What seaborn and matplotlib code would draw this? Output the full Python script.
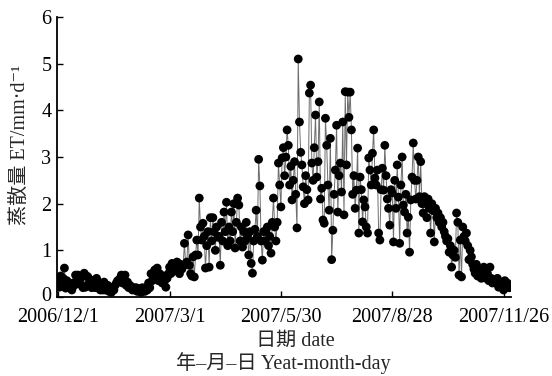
import matplotlib
matplotlib.use("Agg")
import matplotlib.pyplot as plt
import matplotlib.transforms as mtrans
import seaborn as sns
import pandas as pd
import numpy as np

start_date = "2006-12-01"
et_values = [
    0.3, 0.21, 0.45, 0.3, 0.4, 0.62, 0.19, 0.35, 0.3, 0.25,
    0.2, 0.15, 0.3, 0.25, 0.47, 0.35, 0.47, 0.3, 0.4, 0.25,
    0.2, 0.51, 0.21, 0.45, 0.43, 0.3, 0.36, 0.2, 0.3, 0.36,
    0.2, 0.4, 0.21, 0.3, 0.15, 0.25, 0.15, 0.32, 0.15, 0.2,
    0.25, 0.12, 0.15, 0.1, 0.2, 0.15, 0.25, 0.3, 0.35, 0.32,
    0.4, 0.47, 0.3, 0.35, 0.47, 0.25, 0.32, 0.2, 0.25, 0.21,
    0.15, 0.2, 0.15, 0.2, 0.12, 0.18, 0.15, 0.1, 0.2, 0.15,
    0.12, 0.2, 0.15, 0.3, 0.2, 0.5, 0.35, 0.45, 0.58, 0.45,
    0.62, 0.35, 0.5, 0.4, 0.3, 0.45, 0.35, 0.21, 0.4, 0.5,
    0.64, 0.5, 0.72, 0.55, 0.68, 0.6, 0.75, 0.72, 0.5, 0.7,
    0.6, 0.68, 1.15, 0.7, 0.75, 1.33, 0.68, 0.5, 0.45, 0.86,
    0.43, 0.9, 1.22, 0.9, 2.12, 1.5, 1.22, 1.58, 1.3, 0.62,
    1.1, 1.4, 0.64, 1.7, 1.2, 1.7, 1.4, 1.0, 1.5, 1.28,
    1.3, 0.68, 1.6, 1.2, 1.82, 1.4, 2.03, 1.1, 1.5, 1.2,
    1.82, 1.4, 2.0, 1.05, 1.6, 2.12, 1.97, 1.2, 1.5, 1.07,
    1.4, 1.2, 1.6, 1.3, 0.9, 1.4, 0.72, 0.51, 1.2, 1.45,
    1.86, 1.3, 2.95, 2.38, 1.2, 0.79, 1.4, 1.2, 1.43, 1.5,
    1.1, 1.3, 0.94, 1.6, 2.12, 1.5, 1.2, 1.6, 2.87, 2.4,
    1.93, 2.98, 3.2, 2.6, 3.0, 3.58, 3.25, 2.4, 2.8, 2.08,
    2.5, 2.9, 2.2, 1.48, 5.1, 3.75, 3.1, 2.83, 2.36, 2.0,
    2.6, 2.3, 2.08, 4.37, 4.54, 2.87, 2.5, 3.2, 3.9, 2.57,
    2.9, 4.18, 2.1, 2.33, 1.65, 1.58, 3.83, 3.25, 2.4, 1.86,
    3.4, 0.8, 1.43, 2.2, 2.72, 3.68, 1.82, 2.6, 2.87, 2.25,
    3.75, 1.76, 4.4, 2.83, 4.39, 3.85, 4.39, 3.58, 2.2, 2.6,
    1.9, 2.29, 3.19, 1.37, 2.57, 2.3, 1.61, 2.08, 1.93, 1.5,
    1.37, 2.98, 2.72, 2.4, 3.08, 3.58, 2.55, 2.4, 2.72, 1.37,
    1.22, 2.3, 2.76, 2.29, 3.25, 2.6, 2.1, 1.9, 1.54, 2.3,
    2.23, 1.18, 2.5, 1.9, 2.83, 2.14, 1.15, 2.4, 3.0, 1.97,
    1.82, 2.2, 1.37, 1.71, 0.96, 2.08, 2.57, 3.3, 2.5, 2.1,
    2.5, 3.0, 2.15, 2.9, 2.0, 1.8, 2.15, 2.0, 1.7, 2.1,
    1.9, 1.37, 2.0, 1.85, 1.18, 1.9, 1.7, 1.8, 1.6, 1.7,
    1.5, 1.6, 1.4, 1.3, 1.2, 1.25, 0.96, 1.1, 0.64, 0.9,
    1.0, 0.85, 1.8, 1.6, 0.47, 1.22, 0.43, 1.5, 1.3, 1.2,
    1.37, 1.1, 0.8, 1.0, 0.86, 0.7, 0.6, 0.51, 0.7, 0.45,
    0.6, 0.51, 0.4, 0.5, 0.64, 0.45, 0.4, 0.5, 0.35, 0.64,
    0.4, 0.3, 0.35, 0.36, 0.3, 0.4, 0.21, 0.3, 0.25, 0.3,
    0.15, 0.35, 0.25, 0.3, 0.2, 0.2,
]
tick_dates = ["2006-12-01", "2007-03-01", "2007-05-30", "2007-08-28", "2007-11-26"]
tick_labels = ["2006/12/1", "2007/3/1", "2007/5/30", "2007/8/28", "2007/11/26"]
y_ticks = [0, 1, 2, 3, 4, 5, 6]
ylabel = "蒸散量 ET/mm·d⁻¹"
xlabel1 = "日期 date"
xlabel2 = "年–月–日 Yeat-month-day"

dates = pd.date_range(start_date, periods=len(et_values), freq="D")
df = pd.DataFrame({"date": dates, "et": et_values})

sns.set_style("ticks")
fams = ["Liberation Serif", "Noto Sans CJK SC", "DejaVu Sans"]
plt.rcParams["font.family"] = fams

fig = plt.figure(figsize=(5.52, 3.76), dpi=100)
ax = fig.add_axes([57/552, 1-297/376, (511-57)/552, (297-17)/376])

sns.lineplot(data=df, x="date", y="et", ax=ax, color="#6e6e6e", linewidth=0.7, zorder=1)
sns.scatterplot(data=df, x="date", y="et", ax=ax, color="black", s=40, edgecolor="none", zorder=2)

ax.set_ylim(0, 6)
ax.set_xlim(pd.Timestamp(start_date) - pd.Timedelta(days=1), pd.Timestamp(start_date) + pd.Timedelta(days=366))
ax.set_yticks(y_ticks)
ax.set_yticklabels([str(t) for t in y_ticks])
ax.set_xticks([pd.Timestamp(d) for d in tick_dates])
ax.set_xticklabels(tick_labels)
ax.tick_params(direction="in", length=4, width=1, labelsize=14.5, colors="black")
ax.tick_params(axis="x", pad=8)
ax.tick_params(axis="y", pad=4)
for s in ["top", "right"]:
    ax.spines[s].set_visible(False)
for s in ["left", "bottom"]:
    ax.spines[s].set_linewidth(1.3)
    ax.spines[s].set_color("black")
ax.set_xlabel("")
ax.set_ylabel("")

# nudge the "0" label up a little so it does not collide with the first date label
zero_lbl = ax.get_yticklabels()[0]
zero_lbl.set_transform(zero_lbl.get_transform() + mtrans.ScaledTranslation(0, 3/100, fig.dpi_scale_trans))

fig.text(20/552, 1-145/376, ylabel, rotation=90, ha="center", va="center", fontsize=14.5, family=fams)
fig.text(295/552, 1-341/376, xlabel1, ha="center", va="center", fontsize=14.5, family=fams)
fig.text(283/552, 1-363/376, xlabel2, ha="center", va="center", fontsize=14.5, family=fams)

fig.savefig("out.png", dpi=100)
